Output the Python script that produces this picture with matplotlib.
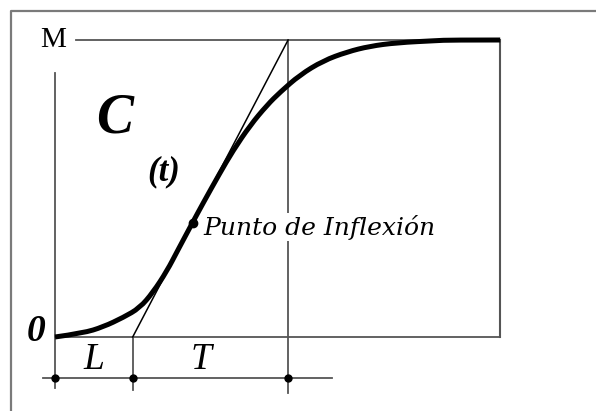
import numpy as np
import matplotlib.pyplot as plt
from matplotlib.path import Path
from matplotlib.patches import PathPatch

# Step response C(t): readings of the S-shaped curve (time, fraction of M)
t_vals = [0.00, 0.36, 0.62, 0.88, 1.09, 1.26, 1.44, 1.58, 1.77, 1.90, 2.12,
          2.29, 2.51, 2.73, 2.90, 3.15, 3.45, 3.76, 4.05, 4.40, 4.92, 5.08, 5.73]
c_vals = [0.000, 0.013, 0.034, 0.066, 0.098, 0.150, 0.222, 0.292, 0.385, 0.448,
          0.551, 0.627, 0.712, 0.781, 0.825, 0.882, 0.930, 0.960, 0.979, 0.991,
          0.998, 1.000, 1.000]

M = 1.0          # final value
L = 1.0          # dead time
T = 2.0          # time constant
t_infl = 1.77    # inflection point
c_infl = 0.385


def smooth_path(xs, ys):
    # quadratic b-spline through the readings: each reading is a control
    # point, segments join at the midpoints
    pts = list(zip(xs, ys))
    verts = [pts[0]]
    codes = [Path.MOVETO]
    for i in range(1, len(pts) - 2):
        mid = ((pts[i][0] + pts[i + 1][0]) / 2, (pts[i][1] + pts[i + 1][1]) / 2)
        verts += [pts[i], mid]
        codes += [Path.CURVE3, Path.CURVE3]
    verts += [pts[-2], pts[-1]]
    codes += [Path.CURVE3, Path.CURVE3]
    return Path(verts, codes)


fig = plt.figure(figsize=(5.96, 4.11), dpi=100)
ax = fig.add_axes([0, 0, 1, 1])
ax.set_xlim(-0.708, 6.963)
ax.set_ylim(-0.2492, 1.1347)
ax.axis('off')

grey = '#555555'
t_end = t_vals[-1]
row = -0.138

# outer frame (left and top edges only)
ax.plot([0.0185, 0.0185, 1.0], [0.0, 0.973, 0.973], transform=ax.transAxes,
        color='#7a7a7a', lw=1.6, solid_capstyle='butt', clip_on=False)

# reference box: M level, baseline, right edge
ax.plot([0.27, t_end], [M, M], color=grey, lw=1.3)
ax.plot([0, t_end], [0, 0], color=grey, lw=1.3)
ax.plot([t_end, t_end], [0, M], color=grey, lw=1.5)
ax.plot([0, 0], [0.89, -0.172], color=grey, lw=1.3)
ax.plot([L, L], [0, -0.178], color=grey, lw=1.3)
ax.plot([L + T, L + T], [M, -0.189], color=grey, lw=1.3)

# time row with L and T markers
ax.plot([-0.154, 3.565], [row, row], color=grey, lw=1.3)
ax.plot([0, L, L + T], [row] * 3, 'o', color='black', ms=5)

# tangent through the inflection point
ax.plot([L, L + T], [0, M], color='black', lw=1.1)

# response curve
ax.add_patch(PathPatch(smooth_path(t_vals, c_vals), facecolor='none',
                       edgecolor='black', lw=3.6, capstyle='butt', zorder=5))
ax.plot(t_infl, c_infl, 'o', color='black', ms=6, zorder=6)

serif = 'Liberation Serif'
ax.text(-0.02, M, 'M', fontsize=21, family=serif, ha='center', va='center')
ax.text(-0.25, 0.02, '0', fontsize=27, family=serif, style='italic',
        weight='bold', ha='center', va='center')
ax.text(0.5, -0.077, 'L', fontsize=27, family=serif, style='italic',
        ha='center', va='center')
ax.text(1.88, -0.077, 'T', fontsize=27, family=serif, style='italic',
        ha='center', va='center')
ax.text(0.77, 0.735, 'C', fontsize=40, family=serif, style='italic',
        weight='bold', ha='center', va='center')
ax.text(1.4, 0.555, '(t)', fontsize=25, family=serif, style='italic',
        weight='bold', ha='center', va='center')
ax.text(t_infl + 0.14, 0.37, 'Punto de Inflexión', fontsize=18,
        family='DejaVu Serif', style='italic', ha='left', va='center',
        zorder=7, bbox=dict(facecolor='white', edgecolor='none', pad=1.0))

fig.savefig('out.png', dpi=100, facecolor='white')
